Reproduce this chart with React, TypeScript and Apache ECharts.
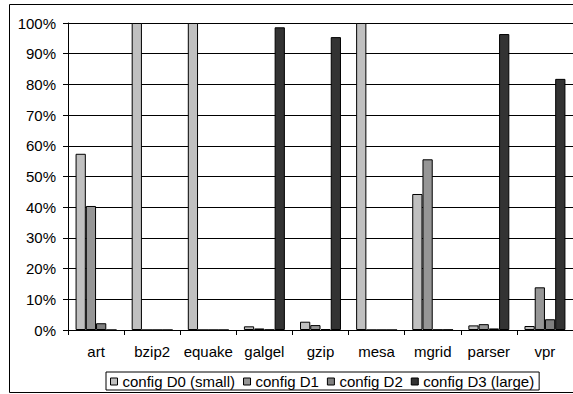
import React, { useEffect, useRef } from "react";
import * as echarts from "echarts";

const categories = ["art", "bzip2", "equake", "galgel", "gzip", "mesa", "mgrid", "parser", "vpr"];
const seriesNames = ["config D0 (small)", "config D1", "config D2", "config D3 (large)"];
const d0 = [57.4, 100, 100, 1.2, 2.7, 100, 44.3, 1.5, 1.3];
const d1 = [40.4, 0, 0, 0.5, 1.6, 0, 55.6, 1.9, 13.9];
const d2 = [2.2, 0, 0, 0.1, 0.3, 0, 0.1, 0.5, 3.5];
const d3 = [0, 0, 0, 98.6, 95.4, 0, 0.1, 96.4, 81.8];
const seriesColors = ["#C0C0C0", "#969696", "#808080", "#333333"];

const FONT = "'Liberation Sans', Arial, sans-serif";

export default function App() {
  const ref = useRef<HTMLDivElement>(null);
  useEffect(() => {
    if (!ref.current) return;
    const chart = echarts.init(ref.current, null, { renderer: "svg" });
    const data = [d0, d1, d2, d3];
    chart.setOption({
      animation: false,
      backgroundColor: "#ffffff",
      textStyle: { fontFamily: FONT },
      grid: { left: 68, top: 23, width: 507, height: 307, containLabel: false },
      graphic: [
        {
          type: "rect",
          shape: { x: 9.5, y: 4.5, width: 600, height: 388 },
          style: { fill: "none", stroke: "#000", lineWidth: 1 },
          z: -1,
        },
      ],
      legend: {
        data: seriesNames,
        left: 106,
        top: 372,
        orient: "horizontal",
        padding: [2, 5, 1, 4],
        itemGap: 8,
        itemWidth: 7,
        itemHeight: 7,
        icon: "rect",
        borderColor: "#000",
        borderWidth: 1,
        backgroundColor: "#fff",
        itemStyle: { borderColor: "#000", borderWidth: 1 },
        textStyle: { fontFamily: FONT, fontSize: 15, color: "#000" },
      },
      xAxis: {
        type: "category",
        data: categories,
        axisLine: { show: true, lineStyle: { color: "#000", width: 1 } },
        axisTick: { show: true, alignWithLabel: false, length: 5, lineStyle: { color: "#000" } },
        axisLabel: { color: "#000", fontFamily: FONT, fontSize: 15, margin: 14, interval: 0 },
        splitLine: { show: false },
      },
      yAxis: {
        type: "value",
        min: 0,
        max: 100,
        interval: 10,
        axisLine: { show: true, lineStyle: { color: "#000", width: 1 } },
        axisTick: { show: true, length: 5, lineStyle: { color: "#000" } },
        axisLabel: { color: "#000", fontFamily: FONT, fontSize: 15, margin: 12, formatter: "{value}%" },
        splitLine: { show: true, lineStyle: { color: "#000", width: 1 } },
      },
      series: seriesNames.map((name, i) => ({
        name,
        type: "bar",
        data: data[i],
        barGap: "0%",
        barCategoryGap: "27%",
        itemStyle: { color: seriesColors[i], borderColor: "#000", borderWidth: 1 },
        emphasis: { disabled: true },
      })),
    });
    return () => chart.dispose();
  }, []);
  return (
    <div
      ref={ref}
      style={{ position: "fixed", left: 0, top: 0, width: 573, height: 394, background: "#fff" }}
    />
  );
}
